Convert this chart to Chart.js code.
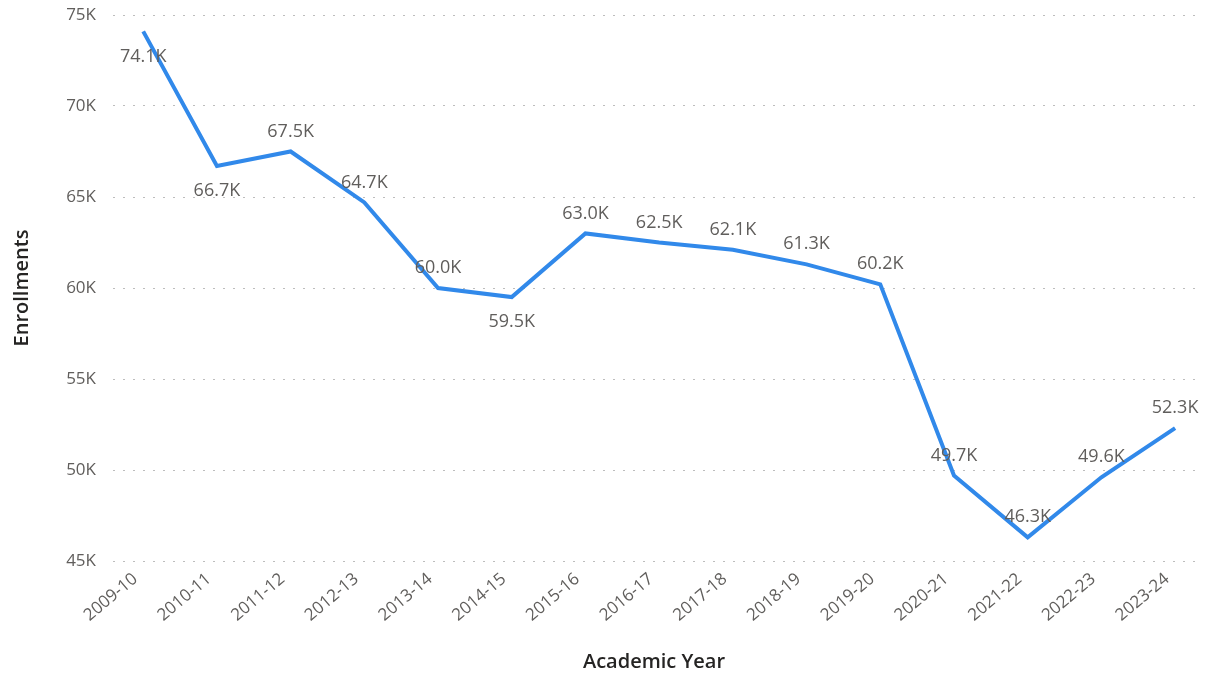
<!DOCTYPE html>
<html>
<head>
<meta charset="utf-8">
<title>Enrollments by Academic Year</title>
<script src="https://cdn.jsdelivr.net/npm/chart.js@4.4.1/dist/chart.umd.min.js"></script>
<style>
  html, body { margin: 0; padding: 0; background: #fff; }
  #wrap { width: 1205px; height: 677px; position: relative; }
</style>
</head>
<body>
<div id="wrap"><canvas id="enroll-chart"></canvas></div>
<script>
const academicYears = ['2009-10', '2010-11', '2011-12', '2012-13', '2013-14', '2014-15', '2015-16', '2016-17',
  '2017-18', '2018-19', '2019-20', '2020-21', '2021-22', '2022-23', '2023-24'];
const enrollments = [74100, 66700, 67500, 64700, 60000, 59500, 63000, 62500,
  62100, 61300, 60200, 49700, 46300, 49600, 52300];
const yTicks = [45000, 50000, 55000, 60000, 65000, 70000, 75000];

// where each value label sits relative to its point
const labelSide = ['below', 'below', 'above', 'above', 'above', 'below', 'above', 'above',
  'above', 'above', 'above', 'above', 'above', 'above', 'above'];

const FONT = '"Open Sans", "Segoe UI", sans-serif';
const fmtK = v => (v / 1000).toFixed(1) + 'K';

const pointLabels = {
  id: 'pointLabels',
  afterDatasetsDraw(chart) {
    const ctx = chart.ctx;
    const meta = chart.getDatasetMeta(0);
    ctx.save();
    ctx.font = '18px ' + FONT;
    ctx.fillStyle = '#605e5c';
    ctx.textAlign = 'center';
    ctx.textBaseline = 'middle';
    meta.data.forEach((pt, i) => {
      const dy = labelSide[i] === 'below' ? 25 : -20;
      ctx.fillText(fmtK(enrollments[i]), pt.x, pt.y + dy);
    });
    ctx.restore();
  }
};

new Chart(document.getElementById('enroll-chart'), {
  type: 'line',
  data: {
    datasets: [{
      label: 'Enrollments',
      data: enrollments.map((v, i) => ({ x: i, y: v })),
      borderColor: '#3189ea',
      borderWidth: 4,
      borderJoinStyle: 'miter',
      pointRadius: 0,
      tension: 0,
      fill: false
    }]
  },
  plugins: [pointLabels],
  options: {
    responsive: true,
    maintainAspectRatio: false,
    animation: false,
    layout: { padding: { top: 15, right: 10, left: 0, bottom: 0 } },
    plugins: { legend: { display: false }, tooltip: { enabled: false } },
    scales: {
      x: {
        type: 'linear',
        min: -0.41,
        max: 14.27,
        afterBuildTicks: scale => {
          scale.ticks = academicYears.map((_, i) => ({ value: i }));
        },
        afterFit: scale => { scale.height = 116; },
        ticks: {
          autoSkip: false,
          maxRotation: 40,
          minRotation: 40,
          padding: 8,
          labelOffset: -8,
          color: '#605e5c',
          font: { family: FONT, size: 17 },
          callback: v => academicYears[v]
        },
        grid: { display: false, drawTicks: false },
        border: { display: false },
        title: {
          display: true,
          text: 'Academic Year',
          color: '#252423',
          font: { family: FONT, size: 20, weight: '600' },
          padding: { top: 0, bottom: 3 }
        }
      },
      y: {
        min: 45000,
        max: 75000,
        afterBuildTicks: scale => {
          scale.ticks = yTicks.map(v => ({ value: v }));
        },
        afterFit: scale => {
          scale.width = 113;
          scale.paddingTop = 0;
          scale.paddingBottom = 0;
        },
        ticks: {
          padding: 17,
          color: '#605e5c',
          font: { family: FONT, size: 17 },
          callback: v => (v / 1000) + 'K'
        },
        grid: {
          color: '#bdbdbd',
          lineWidth: 1,
          drawTicks: false
        },
        border: { display: false, dash: [2, 8] },
        title: {
          display: true,
          text: 'Enrollments',
          color: '#252423',
          font: { family: FONT, size: 20, weight: '600' },
          padding: { top: 10, bottom: 0 }
        }
      }
    }
  }
});
</script>
</body>
</html>
